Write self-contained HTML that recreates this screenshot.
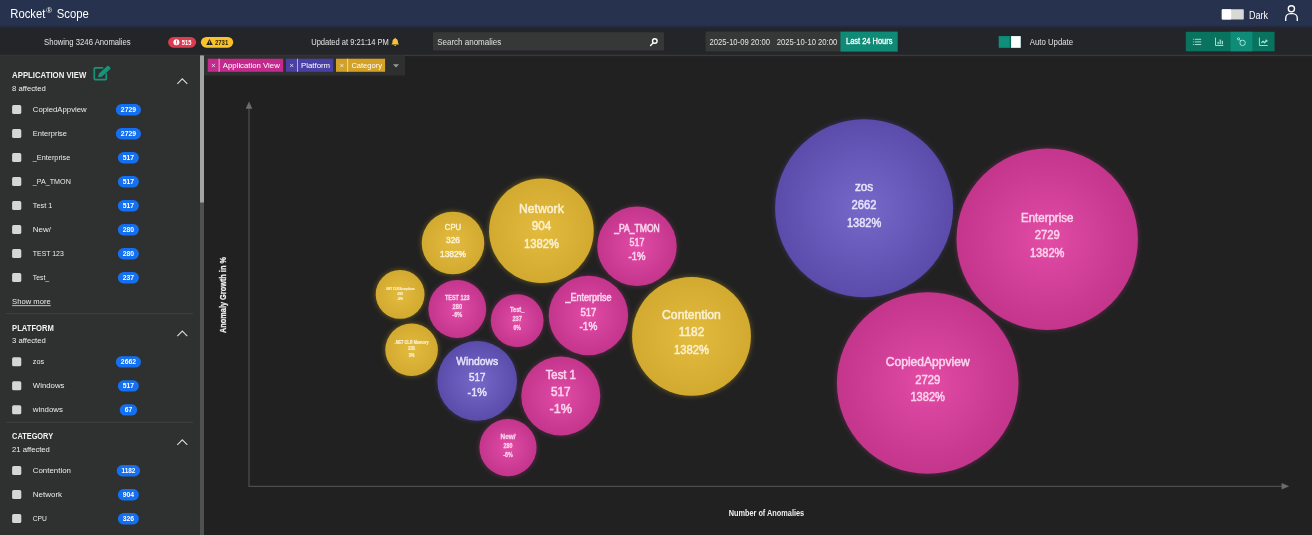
<!DOCTYPE html>
<html><head><meta charset="utf-8"><title>Rocket Scope</title>
<style>
*{margin:0;padding:0}
html,body{width:1312px;height:535px;overflow:hidden;background:#212121}
svg{display:block;will-change:transform;transform:translateZ(0);font-family:"Liberation Sans",sans-serif}
text{white-space:pre}
</style></head><body>
<svg width="1312" height="535" viewBox="0 0 1312 535">
<defs>
<linearGradient id="hs" x1="0" y1="0" x2="0" y2="1"><stop offset="0" stop-color="#27324e"/><stop offset="0.45" stop-color="#222737"/><stop offset="1" stop-color="#242528"/></linearGradient>
<radialGradient id="gP"><stop offset="0" stop-color="#e34ca5"/><stop offset="0.55" stop-color="#d03f98"/><stop offset="1" stop-color="#c4358c"/></radialGradient>
<radialGradient id="gY"><stop offset="0" stop-color="#e2bb3e"/><stop offset="1" stop-color="#d3aa30"/></radialGradient>
<radialGradient id="gV"><stop offset="0" stop-color="#7469c9"/><stop offset="1" stop-color="#5b4cab"/></radialGradient>
<filter id="bl" x="-20%" y="-20%" width="140%" height="140%"><feGaussianBlur stdDeviation="2.4"/></filter>
</defs>
<rect x="0" y="0" width="1312" height="535" fill="#212121"/>
<rect x="0" y="25" width="1312" height="30" fill="#242528"/>
<rect x="0" y="54.7" width="1312" height="1.4" fill="#393939"/>
<rect x="0" y="0" width="1312" height="25.5" fill="#27324e"/>
<rect x="0" y="25.5" width="1312" height="4" fill="url(#hs)"/>
<rect x="0" y="55.5" width="200" height="480" fill="#2f3030"/>
<rect x="200" y="55.5" width="4" height="480" fill="#505050"/>
<rect x="200" y="55.5" width="4" height="147" fill="#a3a3a3"/>
<text x="10.3" y="17.7" font-size="12.8" fill="#fff" textLength="35" lengthAdjust="spacingAndGlyphs">Rocket</text>
<text x="46.2" y="12.8" font-size="6.5" fill="#fff" textLength="5.8" lengthAdjust="spacingAndGlyphs">®</text>
<text x="56.8" y="17.7" font-size="12.8" fill="#fff" textLength="32" lengthAdjust="spacingAndGlyphs">Scope</text>
<rect x="1221.8" y="9.2" width="22" height="10.4" rx="0.8" fill="#d6d9d6"/>
<rect x="1221.8" y="9.2" width="9.4" height="10.4" rx="0.8" fill="#ffffff"/>
<text x="1248.9" y="18.8" font-size="10" fill="#fff" textLength="19" lengthAdjust="spacingAndGlyphs">Dark</text>
<g fill="none" stroke="#fff" stroke-width="1.35"><circle cx="1291.4" cy="8.8" r="3.1"/><path d="M1285.7 21v-2.8a4.6 4.6 0 0 1 4.6-4.6h2.4a4.6 4.6 0 0 1 4.6 4.6v2.8"/></g>
<text x="44" y="44.5" font-size="8.4" fill="#e4e4e4" textLength="86.7" lengthAdjust="spacingAndGlyphs">Showing 3246 Anomalies</text>
<rect x="168.1" y="36.9" width="28" height="10.8" rx="5.4" fill="#dc3b50"/>
<circle cx="176.4" cy="42.3" r="3" fill="#fff"/><rect x="176" y="40.4" width="0.9" height="2.3" fill="#dc3b50"/><rect x="176" y="43.3" width="0.9" height="0.9" fill="#dc3b50"/>
<text x="181.8" y="44.7" font-size="6.8" font-weight="700" fill="#fff" textLength="9.6" lengthAdjust="spacingAndGlyphs">515</text>
<rect x="200.9" y="36.9" width="32.3" height="10.8" rx="5.4" fill="#fbc32a"/>
<path d="M209.5 38.9l3.3 6h-6.6z" fill="#222"/><rect x="209.15" y="40.9" width="0.7" height="2.1" fill="#fbc32a"/><rect x="209.15" y="43.5" width="0.7" height="0.7" fill="#fbc32a"/>
<text x="214.9" y="44.7" font-size="6.8" font-weight="700" fill="#2a2410" textLength="13.4" lengthAdjust="spacingAndGlyphs">2731</text>
<text x="311.2" y="44.5" font-size="8.4" fill="#e4e4e4" textLength="77.7" lengthAdjust="spacingAndGlyphs">Updated at 9:21:14 PM</text>
<path d="M395.2 37.8a0.6 0.6 0 0 1 .6.6v.3c1.3.3 2.1 1.4 2.1 2.7 0 1.5.4 2.2 1 2.8v.4h-7.4v-.4c.6-.6 1-1.3 1-2.8 0-1.3.8-2.4 2.1-2.7v-.3a.6.6 0 0 1 .6-.6zM394.2 45.1h2a1 1 0 0 1-2 0z" fill="#f7c331"/>
<rect x="433" y="32.2" width="231" height="18.4" rx="1" fill="#363737"/>
<text x="437.2" y="44.6" font-size="8.4" fill="#e0e0e0" textLength="64" lengthAdjust="spacingAndGlyphs">Search anomalies</text>
<g fill="none" stroke="#fff" stroke-width="1.4" stroke-linecap="round"><circle cx="654.8" cy="41" r="2.3"/><path d="M653 43l-2.4 2.4"/></g>
<rect x="705.6" y="31.6" width="135" height="20" rx="1" fill="#363737"/>
<text x="709.6" y="44.9" font-size="8.3" fill="#e4e4e4" textLength="60.3" lengthAdjust="spacingAndGlyphs">2025-10-09 20:00</text>
<text x="776.8" y="44.9" font-size="8.3" fill="#e4e4e4" textLength="60.4" lengthAdjust="spacingAndGlyphs">2025-10-10 20:00</text>
<rect x="840.4" y="31.6" width="57.3" height="20" fill="#0f8a77"/>
<text x="846" y="43.9" font-size="8.2" fill="#fff" textLength="46.5" lengthAdjust="spacingAndGlyphs" stroke="#fff" stroke-width="0.3">Last 24 Hours</text>
<rect x="998.7" y="36.1" width="22" height="11.7" fill="#0f8f7a"/>
<rect x="1009.6" y="36.1" width="1.6" height="11.7" fill="#0a6858"/>
<rect x="1011.1" y="36.1" width="9.6" height="11.7" fill="#ffffff"/>
<text x="1029.8" y="44.5" font-size="8.4" fill="#e4e4e4" textLength="43.3" lengthAdjust="spacingAndGlyphs">Auto Update</text>
<rect x="1185.8" y="31.8" width="88.8" height="19.5" fill="#09735f"/>
<rect x="1230.6" y="31.8" width="21.8" height="19.5" fill="#0e8c78"/>
<g stroke="#bdeee1" stroke-width="0.85" fill="none"><path d="M1194.8 39.3h6.4M1194.8 41.9h6.4M1194.8 44.5h6.4"/><path d="M1192.9 39.3h.9M1192.9 41.9h.9M1192.9 44.5h.9"/><path d="M1215.5 37.6v7.9h7.8"/><path d="M1218.1 44.2v-2.4M1220.2 44.2v-4.8M1222.3 44.2v-3.4" stroke-width="1.1"/><circle cx="1238.5" cy="38.8" r="1.1"/><circle cx="1242.6" cy="42.9" r="2.7"/><path d="M1239.3 39.6l1.4 1.4"/><path d="M1259.4 37.6v7.9h8.3"/><path d="M1261.4 42.8l1.6-1.5 1.6 1.4 2.2-2.3" stroke-width="1.1"/><path d="M1265.4 40.2h1.6v1.6" stroke-width="0.9"/></g>
<text x="12.1" y="78.39999999999999" font-size="8.4" font-weight="700" fill="#f2f2f2" textLength="74.2" lengthAdjust="spacingAndGlyphs">APPLICATION VIEW</text>
<text x="12.1" y="90.6" font-size="7.8" fill="#f0f0f0" textLength="33.7" lengthAdjust="spacingAndGlyphs">8 affected</text>
<path d="M177.3 83.9l5 -5 5 5" fill="none" stroke="#dcdcdc" stroke-width="1.1"/>
<rect x="12.1" y="105.1" width="9.2" height="9" rx="1.6" fill="#d6d6d6"/>
<text x="32.8" y="111.5" font-size="8.1" fill="#ececec" textLength="53.9" lengthAdjust="spacingAndGlyphs">CopiedAppview</text>
<rect x="115.8" y="104.1" width="25.2" height="11.3" rx="5.6" fill="#1470f0"/>
<text x="128.45" y="111.9" font-size="6.9" font-weight="700" fill="#fff" text-anchor="middle" textLength="15.2" lengthAdjust="spacingAndGlyphs">2729</text>
<rect x="12.1" y="129.1" width="9.2" height="9" rx="1.6" fill="#d6d6d6"/>
<text x="32.8" y="135.5" font-size="8.1" fill="#ececec" textLength="34.2" lengthAdjust="spacingAndGlyphs">Enterprise</text>
<rect x="115.8" y="128.1" width="25.2" height="11.3" rx="5.6" fill="#1470f0"/>
<text x="128.45" y="135.9" font-size="6.9" font-weight="700" fill="#fff" text-anchor="middle" textLength="15.2" lengthAdjust="spacingAndGlyphs">2729</text>
<rect x="12.1" y="153.1" width="9.2" height="9" rx="1.6" fill="#d6d6d6"/>
<text x="32.8" y="159.5" font-size="8.1" fill="#ececec" textLength="37.4" lengthAdjust="spacingAndGlyphs">_Enterprise</text>
<rect x="117.9" y="152.1" width="21" height="11.3" rx="5.6" fill="#1470f0"/>
<text x="128.45" y="159.9" font-size="6.9" font-weight="700" fill="#fff" text-anchor="middle" textLength="11.4" lengthAdjust="spacingAndGlyphs">517</text>
<rect x="12.1" y="177.1" width="9.2" height="9" rx="1.6" fill="#d6d6d6"/>
<text x="32.8" y="183.5" font-size="8.1" fill="#ececec" textLength="38" lengthAdjust="spacingAndGlyphs">_PA_TMON</text>
<rect x="117.9" y="176.1" width="21" height="11.3" rx="5.6" fill="#1470f0"/>
<text x="128.45" y="183.9" font-size="6.9" font-weight="700" fill="#fff" text-anchor="middle" textLength="11.4" lengthAdjust="spacingAndGlyphs">517</text>
<rect x="12.1" y="201.1" width="9.2" height="9" rx="1.6" fill="#d6d6d6"/>
<text x="32.8" y="207.5" font-size="8.1" fill="#ececec" textLength="19.5" lengthAdjust="spacingAndGlyphs">Test 1</text>
<rect x="117.9" y="200.1" width="21" height="11.3" rx="5.6" fill="#1470f0"/>
<text x="128.45" y="207.9" font-size="6.9" font-weight="700" fill="#fff" text-anchor="middle" textLength="11.4" lengthAdjust="spacingAndGlyphs">517</text>
<rect x="12.1" y="225.1" width="9.2" height="9" rx="1.6" fill="#d6d6d6"/>
<text x="32.8" y="231.5" font-size="8.1" fill="#ececec" textLength="18.2" lengthAdjust="spacingAndGlyphs">New/</text>
<rect x="117.9" y="224.1" width="21" height="11.3" rx="5.6" fill="#1470f0"/>
<text x="128.45" y="231.9" font-size="6.9" font-weight="700" fill="#fff" text-anchor="middle" textLength="11.4" lengthAdjust="spacingAndGlyphs">280</text>
<rect x="12.1" y="249.1" width="9.2" height="9" rx="1.6" fill="#d6d6d6"/>
<text x="32.8" y="255.5" font-size="8.1" fill="#ececec" textLength="31" lengthAdjust="spacingAndGlyphs">TEST 123</text>
<rect x="117.9" y="248.1" width="21" height="11.3" rx="5.6" fill="#1470f0"/>
<text x="128.45" y="255.9" font-size="6.9" font-weight="700" fill="#fff" text-anchor="middle" textLength="11.4" lengthAdjust="spacingAndGlyphs">280</text>
<rect x="12.1" y="273.1" width="9.2" height="9" rx="1.6" fill="#d6d6d6"/>
<text x="32.8" y="279.5" font-size="8.1" fill="#ececec" textLength="16.3" lengthAdjust="spacingAndGlyphs">Test_</text>
<rect x="117.9" y="272.1" width="21" height="11.3" rx="5.6" fill="#1470f0"/>
<text x="128.45" y="279.9" font-size="6.9" font-weight="700" fill="#fff" text-anchor="middle" textLength="11.4" lengthAdjust="spacingAndGlyphs">237</text>
<path d="M103.2 67.9h-8.1a.8.8 0 0 0-.8.8v10.1a.8.8 0 0 0 .8.8h10.4a.8.8 0 0 0 .8-.8v-5.6" fill="none" stroke="#17957a" stroke-width="1.7"/><path d="M98 77.3l.9-3.6 8.3-7.6a1.2 1.2 0 0 1 1.7.1l1.3 1.4a1.2 1.2 0 0 1-.1 1.7l-8.4 7.5z" fill="#17957a"/>
<text x="12.1" y="304.4" font-size="8" fill="#ececec" textLength="38.7" lengthAdjust="spacingAndGlyphs">Show more</text>
<rect x="12.1" y="305.3" width="38.7" height="0.8" fill="#e0e0e0"/>
<rect x="6" y="313.2" width="187" height="0.9" fill="#414242"/>
<text x="12.1" y="330.6" font-size="8.4" font-weight="700" fill="#f2f2f2" textLength="41.7" lengthAdjust="spacingAndGlyphs">PLATFORM</text>
<text x="12.1" y="342.8" font-size="7.8" fill="#f0f0f0" textLength="33.7" lengthAdjust="spacingAndGlyphs">3 affected</text>
<path d="M177.3 336.1l5 -5 5 5" fill="none" stroke="#dcdcdc" stroke-width="1.1"/>
<rect x="12.1" y="357.3" width="9.2" height="9" rx="1.6" fill="#d6d6d6"/>
<text x="32.8" y="363.7" font-size="8.1" fill="#ececec" textLength="11.3" lengthAdjust="spacingAndGlyphs">zos</text>
<rect x="115.8" y="356.3" width="25.2" height="11.3" rx="5.6" fill="#1470f0"/>
<text x="128.45" y="364.1" font-size="6.9" font-weight="700" fill="#fff" text-anchor="middle" textLength="15.2" lengthAdjust="spacingAndGlyphs">2662</text>
<rect x="12.1" y="381.3" width="9.2" height="9" rx="1.6" fill="#d6d6d6"/>
<text x="32.8" y="387.7" font-size="8.1" fill="#ececec" textLength="31.7" lengthAdjust="spacingAndGlyphs">Windows</text>
<rect x="117.9" y="380.3" width="21" height="11.3" rx="5.6" fill="#1470f0"/>
<text x="128.45" y="388.1" font-size="6.9" font-weight="700" fill="#fff" text-anchor="middle" textLength="11.4" lengthAdjust="spacingAndGlyphs">517</text>
<rect x="12.1" y="405.3" width="9.2" height="9" rx="1.6" fill="#d6d6d6"/>
<text x="32.8" y="411.7" font-size="8.1" fill="#ececec" textLength="30.2" lengthAdjust="spacingAndGlyphs">windows</text>
<rect x="119.7" y="404.3" width="17.5" height="11.3" rx="5.6" fill="#1470f0"/>
<text x="128.45" y="412.1" font-size="6.9" font-weight="700" fill="#fff" text-anchor="middle" textLength="7.6" lengthAdjust="spacingAndGlyphs">67</text>
<rect x="6" y="421.8" width="187" height="0.9" fill="#414242"/>
<text x="12.1" y="439.40000000000003" font-size="8.4" font-weight="700" fill="#f2f2f2" textLength="41" lengthAdjust="spacingAndGlyphs">CATEGORY</text>
<text x="12.1" y="451.6" font-size="7.8" fill="#f0f0f0" textLength="37.8" lengthAdjust="spacingAndGlyphs">21 affected</text>
<path d="M177.3 444.9l5 -5 5 5" fill="none" stroke="#dcdcdc" stroke-width="1.1"/>
<rect x="12.1" y="466.1" width="9.2" height="9" rx="1.6" fill="#d6d6d6"/>
<text x="32.8" y="472.5" font-size="8.1" fill="#ececec" textLength="38.1" lengthAdjust="spacingAndGlyphs">Contention</text>
<rect x="116.7" y="465.1" width="23.4" height="11.3" rx="5.6" fill="#1470f0"/>
<text x="128.45" y="472.9" font-size="6.9" font-weight="700" fill="#fff" text-anchor="middle" textLength="14.0" lengthAdjust="spacingAndGlyphs">1182</text>
<rect x="12.1" y="490.1" width="9.2" height="9" rx="1.6" fill="#d6d6d6"/>
<text x="32.8" y="496.5" font-size="8.1" fill="#ececec" textLength="29.3" lengthAdjust="spacingAndGlyphs">Network</text>
<rect x="117.9" y="489.1" width="21" height="11.3" rx="5.6" fill="#1470f0"/>
<text x="128.45" y="496.9" font-size="6.9" font-weight="700" fill="#fff" text-anchor="middle" textLength="11.4" lengthAdjust="spacingAndGlyphs">904</text>
<rect x="12.1" y="514.1" width="9.2" height="9" rx="1.6" fill="#d6d6d6"/>
<text x="32.8" y="520.5" font-size="8.1" fill="#ececec" textLength="14.1" lengthAdjust="spacingAndGlyphs">CPU</text>
<rect x="117.9" y="513.1" width="21" height="11.3" rx="5.6" fill="#1470f0"/>
<text x="128.45" y="520.9" font-size="6.9" font-weight="700" fill="#fff" text-anchor="middle" textLength="11.4" lengthAdjust="spacingAndGlyphs">326</text>
<rect x="204" y="55.5" width="201" height="20" fill="#2e2f2f"/>
<rect x="207.7" y="58.7" width="75.5" height="13.1" fill="#c42a8d"/>
<rect x="218.7" y="58.7" width="0.8" height="13.1" fill="rgba(255,255,255,0.75)"/>
<path d="M211.8 63.9l3.2 3.2M215.0 63.9l-3.2 3.2" stroke="#fff" stroke-opacity="0.85" stroke-width="0.8" fill="none"/>
<text x="222.79999999999998" y="68.2" font-size="8" fill="#fff" textLength="57" lengthAdjust="spacingAndGlyphs">Application View</text>
<rect x="286" y="58.7" width="47.2" height="13.1" fill="#4a3fa5"/>
<rect x="297.0" y="58.7" width="0.8" height="13.1" fill="rgba(255,255,255,0.75)"/>
<path d="M290.1 63.9l3.2 3.2M293.3 63.9l-3.2 3.2" stroke="#fff" stroke-opacity="0.85" stroke-width="0.8" fill="none"/>
<text x="301.09999999999997" y="68.2" font-size="8" fill="#fff" textLength="29" lengthAdjust="spacingAndGlyphs">Platform</text>
<rect x="336" y="58.7" width="49.1" height="13.1" fill="#d2a126"/>
<rect x="347.3" y="58.7" width="0.8" height="13.1" fill="rgba(255,255,255,0.75)"/>
<path d="M340.2 63.9l3.2 3.2M343.5 63.9l-3.2 3.2" stroke="#fff" stroke-opacity="0.85" stroke-width="0.8" fill="none"/>
<text x="351.4" y="68.2" font-size="8" fill="#fff" textLength="30.6" lengthAdjust="spacingAndGlyphs">Category</text>
<path d="M393 64.2h6l-3 3.2z" fill="#9a9a9a"/>
<path d="M249 108V486.3H1282" stroke="#4e4e4e" stroke-width="1.2" fill="none"/>
<path d="M249 101.5l3.3 7.2h-6.6z M1289.2 486.3l-7.6 -3.3v6.6z" fill="#6c6c6c"/>
<text x="766.4" y="516.3" font-size="8.3" font-weight="700" fill="#f0f0f0" text-anchor="middle" textLength="75.5" lengthAdjust="spacingAndGlyphs">Number of Anomalies</text>
<text transform="translate(226.3 295) rotate(-90)" font-size="8.4" font-weight="700" fill="#f0f0f0" stroke="#f0f0f0" stroke-width="0.25" text-anchor="middle" textLength="76" lengthAdjust="spacingAndGlyphs">Anomaly Growth in %</text>
<circle cx="864.1" cy="208.2" r="89.5" fill="#6a5cd6" opacity="0.27" filter="url(#bl)"/>
<circle cx="1047.2" cy="239.3" r="91.2" fill="#e83fa8" opacity="0.27" filter="url(#bl)"/>
<circle cx="927.7" cy="383.0" r="91.3" fill="#e83fa8" opacity="0.27" filter="url(#bl)"/>
<circle cx="541.4" cy="230.7" r="52.8" fill="#f2c422" opacity="0.32" filter="url(#bl)"/>
<circle cx="691.5" cy="336.3" r="59.9" fill="#f2c422" opacity="0.32" filter="url(#bl)"/>
<circle cx="453" cy="243" r="31.8" fill="#f2c422" opacity="0.32" filter="url(#bl)"/>
<circle cx="637" cy="246.3" r="40.2" fill="#e83fa8" opacity="0.27" filter="url(#bl)"/>
<circle cx="588.4" cy="315.5" r="40.2" fill="#e83fa8" opacity="0.27" filter="url(#bl)"/>
<circle cx="477.2" cy="380.9" r="40.3" fill="#6a5cd6" opacity="0.27" filter="url(#bl)"/>
<circle cx="560.8" cy="396" r="40.0" fill="#e83fa8" opacity="0.27" filter="url(#bl)"/>
<circle cx="457.3" cy="309" r="29.4" fill="#e83fa8" opacity="0.27" filter="url(#bl)"/>
<circle cx="517.2" cy="320.6" r="26.9" fill="#e83fa8" opacity="0.27" filter="url(#bl)"/>
<circle cx="508" cy="447.6" r="29.1" fill="#e83fa8" opacity="0.27" filter="url(#bl)"/>
<circle cx="411.6" cy="349.8" r="26.8" fill="#f2c422" opacity="0.32" filter="url(#bl)"/>
<circle cx="400.1" cy="294.4" r="24.9" fill="#f2c422" opacity="0.32" filter="url(#bl)"/>
<circle cx="864.1" cy="208.2" r="89.0" fill="url(#gV)"/>
<circle cx="1047.2" cy="239.3" r="90.7" fill="url(#gP)"/>
<circle cx="927.7" cy="383.0" r="90.8" fill="url(#gP)"/>
<circle cx="541.4" cy="230.7" r="52.3" fill="url(#gY)"/>
<circle cx="691.5" cy="336.3" r="59.4" fill="url(#gY)"/>
<circle cx="453" cy="243" r="31.3" fill="url(#gY)"/>
<circle cx="637" cy="246.3" r="39.7" fill="url(#gP)"/>
<circle cx="588.4" cy="315.5" r="39.7" fill="url(#gP)"/>
<circle cx="477.2" cy="380.9" r="39.8" fill="url(#gV)"/>
<circle cx="560.8" cy="396" r="39.5" fill="url(#gP)"/>
<circle cx="457.3" cy="309" r="28.9" fill="url(#gP)"/>
<circle cx="517.2" cy="320.6" r="26.4" fill="url(#gP)"/>
<circle cx="508" cy="447.6" r="28.6" fill="url(#gP)"/>
<circle cx="411.6" cy="349.8" r="26.3" fill="url(#gY)"/>
<circle cx="400.1" cy="294.4" r="24.4" fill="url(#gY)"/>
<text x="864.1" y="191.2" font-size="12" fill="#e6e3fa" text-anchor="middle" textLength="18.3" lengthAdjust="spacingAndGlyphs" stroke="#e6e3fa" stroke-width="0.5">zos</text>
<text x="864.1" y="209" font-size="12" fill="#e6e3fa" text-anchor="middle" textLength="25" lengthAdjust="spacingAndGlyphs" stroke="#e6e3fa" stroke-width="0.5">2662</text>
<text x="864.1" y="227" font-size="12" fill="#e6e3fa" text-anchor="middle" textLength="34.3" lengthAdjust="spacingAndGlyphs" stroke="#e6e3fa" stroke-width="0.5">1382%</text>
<text x="1047.2" y="221.5" font-size="12" fill="#fbd3ec" text-anchor="middle" textLength="52.3" lengthAdjust="spacingAndGlyphs" stroke="#fbd3ec" stroke-width="0.5">Enterprise</text>
<text x="1047.2" y="239" font-size="12" fill="#fbd3ec" text-anchor="middle" textLength="25" lengthAdjust="spacingAndGlyphs" stroke="#fbd3ec" stroke-width="0.5">2729</text>
<text x="1047.2" y="257" font-size="12" fill="#fbd3ec" text-anchor="middle" textLength="34.5" lengthAdjust="spacingAndGlyphs" stroke="#fbd3ec" stroke-width="0.5">1382%</text>
<text x="927.7" y="365.5" font-size="12" fill="#fbd3ec" text-anchor="middle" textLength="83.8" lengthAdjust="spacingAndGlyphs" stroke="#fbd3ec" stroke-width="0.5">CopiedAppview</text>
<text x="927.7" y="383.5" font-size="12" fill="#fbd3ec" text-anchor="middle" textLength="25" lengthAdjust="spacingAndGlyphs" stroke="#fbd3ec" stroke-width="0.5">2729</text>
<text x="927.7" y="401.2" font-size="12" fill="#fbd3ec" text-anchor="middle" textLength="34.5" lengthAdjust="spacingAndGlyphs" stroke="#fbd3ec" stroke-width="0.5">1382%</text>
<text x="541.4" y="212.5" font-size="13.3" fill="#fcf0cf" text-anchor="middle" textLength="44.8" lengthAdjust="spacingAndGlyphs" stroke="#fcf0cf" stroke-width="0.56">Network</text>
<text x="541.4" y="229.8" font-size="13.3" fill="#fcf0cf" text-anchor="middle" textLength="19.5" lengthAdjust="spacingAndGlyphs" stroke="#fcf0cf" stroke-width="0.56">904</text>
<text x="541.4" y="247.8" font-size="13.3" fill="#fcf0cf" text-anchor="middle" textLength="35" lengthAdjust="spacingAndGlyphs" stroke="#fcf0cf" stroke-width="0.56">1382%</text>
<text x="691.5" y="318.7" font-size="13" fill="#fcf0cf" text-anchor="middle" textLength="58.8" lengthAdjust="spacingAndGlyphs" stroke="#fcf0cf" stroke-width="0.55">Contention</text>
<text x="691.5" y="336" font-size="13" fill="#fcf0cf" text-anchor="middle" textLength="25.5" lengthAdjust="spacingAndGlyphs" stroke="#fcf0cf" stroke-width="0.55">1182</text>
<text x="691.5" y="353.6" font-size="13" fill="#fcf0cf" text-anchor="middle" textLength="35" lengthAdjust="spacingAndGlyphs" stroke="#fcf0cf" stroke-width="0.55">1382%</text>
<text x="453" y="229.8" font-size="9.3" fill="#fcf0cf" text-anchor="middle" textLength="16.4" lengthAdjust="spacingAndGlyphs" stroke="#fcf0cf" stroke-width="0.51">CPU</text>
<text x="453" y="243.3" font-size="9.3" fill="#fcf0cf" text-anchor="middle" textLength="14" lengthAdjust="spacingAndGlyphs" stroke="#fcf0cf" stroke-width="0.51">326</text>
<text x="453" y="256.7" font-size="9.3" fill="#fcf0cf" text-anchor="middle" textLength="26" lengthAdjust="spacingAndGlyphs" stroke="#fcf0cf" stroke-width="0.51">1382%</text>
<text x="637" y="232.2" font-size="10.5" fill="#fbd3ec" text-anchor="middle" textLength="45.5" lengthAdjust="spacingAndGlyphs" stroke="#fbd3ec" stroke-width="0.58">_PA_TMON</text>
<text x="637" y="246.3" font-size="10.5" fill="#fbd3ec" text-anchor="middle" textLength="14.8" lengthAdjust="spacingAndGlyphs" stroke="#fbd3ec" stroke-width="0.58">517</text>
<text x="637" y="259.7" font-size="10.5" fill="#fbd3ec" text-anchor="middle" textLength="17" lengthAdjust="spacingAndGlyphs" stroke="#fbd3ec" stroke-width="0.58">-1%</text>
<text x="588.4" y="301.4" font-size="10.8" fill="#fbd3ec" text-anchor="middle" textLength="46" lengthAdjust="spacingAndGlyphs" stroke="#fbd3ec" stroke-width="0.59">_Enterprise</text>
<text x="588.4" y="316.3" font-size="10.8" fill="#fbd3ec" text-anchor="middle" textLength="16" lengthAdjust="spacingAndGlyphs" stroke="#fbd3ec" stroke-width="0.59">517</text>
<text x="588.4" y="330" font-size="10.8" fill="#fbd3ec" text-anchor="middle" textLength="17.7" lengthAdjust="spacingAndGlyphs" stroke="#fbd3ec" stroke-width="0.59">-1%</text>
<text x="477.2" y="365.4" font-size="11.7" fill="#e6e3fa" text-anchor="middle" textLength="42" lengthAdjust="spacingAndGlyphs" stroke="#e6e3fa" stroke-width="0.49">Windows</text>
<text x="477.2" y="380.7" font-size="11.7" fill="#e6e3fa" text-anchor="middle" textLength="16.5" lengthAdjust="spacingAndGlyphs" stroke="#e6e3fa" stroke-width="0.49">517</text>
<text x="477.2" y="396.4" font-size="11.7" fill="#e6e3fa" text-anchor="middle" textLength="19.2" lengthAdjust="spacingAndGlyphs" stroke="#e6e3fa" stroke-width="0.49">-1%</text>
<text x="560.8" y="378.7" font-size="13" fill="#fbd3ec" text-anchor="middle" textLength="30.3" lengthAdjust="spacingAndGlyphs" stroke="#fbd3ec" stroke-width="0.55">Test 1</text>
<text x="560.8" y="396.4" font-size="13" fill="#fbd3ec" text-anchor="middle" textLength="19.6" lengthAdjust="spacingAndGlyphs" stroke="#fbd3ec" stroke-width="0.55">517</text>
<text x="560.8" y="413.3" font-size="13" fill="#fbd3ec" text-anchor="middle" textLength="22.4" lengthAdjust="spacingAndGlyphs" stroke="#fbd3ec" stroke-width="0.55">-1%</text>
<text x="457.3" y="300.2" font-size="7" font-weight="700" fill="#fbd3ec" text-anchor="middle" textLength="24.7" lengthAdjust="spacingAndGlyphs" stroke="#fbd3ec" stroke-width="0.28">TEST 123</text>
<text x="457.3" y="309.3" font-size="7" font-weight="700" fill="#fbd3ec" text-anchor="middle" textLength="9.5" lengthAdjust="spacingAndGlyphs" stroke="#fbd3ec" stroke-width="0.28">280</text>
<text x="457.3" y="317.1" font-size="7" font-weight="700" fill="#fbd3ec" text-anchor="middle" textLength="10" lengthAdjust="spacingAndGlyphs" stroke="#fbd3ec" stroke-width="0.28">-6%</text>
<text x="517.2" y="312.1" font-size="6.8" font-weight="700" fill="#fbd3ec" text-anchor="middle" textLength="14.5" lengthAdjust="spacingAndGlyphs" stroke="#fbd3ec" stroke-width="0.27">Test_</text>
<text x="517.2" y="321.3" font-size="6.8" font-weight="700" fill="#fbd3ec" text-anchor="middle" textLength="9.5" lengthAdjust="spacingAndGlyphs" stroke="#fbd3ec" stroke-width="0.27">237</text>
<text x="517.2" y="330" font-size="6.8" font-weight="700" fill="#fbd3ec" text-anchor="middle" textLength="7.4" lengthAdjust="spacingAndGlyphs" stroke="#fbd3ec" stroke-width="0.27">6%</text>
<text x="508" y="438.8" font-size="6.8" font-weight="700" fill="#fbd3ec" text-anchor="middle" textLength="15" lengthAdjust="spacingAndGlyphs" stroke="#fbd3ec" stroke-width="0.27">New/</text>
<text x="508" y="447.8" font-size="6.8" font-weight="700" fill="#fbd3ec" text-anchor="middle" textLength="8.8" lengthAdjust="spacingAndGlyphs" stroke="#fbd3ec" stroke-width="0.27">280</text>
<text x="508" y="456.5" font-size="6.8" font-weight="700" fill="#fbd3ec" text-anchor="middle" textLength="9.5" lengthAdjust="spacingAndGlyphs" stroke="#fbd3ec" stroke-width="0.27">-6%</text>
<text x="411.6" y="343.6" font-size="5" font-weight="700" fill="#fcf0cf" text-anchor="middle" textLength="34" lengthAdjust="spacingAndGlyphs" stroke="#fcf0cf" stroke-width="0.2">.NET CLR Memory</text>
<text x="411.6" y="349.6" font-size="5" font-weight="700" fill="#fcf0cf" text-anchor="middle" textLength="7.2" lengthAdjust="spacingAndGlyphs" stroke="#fcf0cf" stroke-width="0.2">231</text>
<text x="411.6" y="356.6" font-size="5" font-weight="700" fill="#fcf0cf" text-anchor="middle" textLength="5.5" lengthAdjust="spacingAndGlyphs" stroke="#fcf0cf" stroke-width="0.2">3%</text>
<text x="400.1" y="290.2" font-size="4.3" font-weight="700" fill="#fcf0cf" text-anchor="middle" textLength="28.8" lengthAdjust="spacingAndGlyphs" stroke="#fcf0cf" stroke-width="0.17">.NET CLR Exceptions</text>
<text x="400.1" y="294.8" font-size="4.3" font-weight="700" fill="#fcf0cf" text-anchor="middle" textLength="5.5" lengthAdjust="spacingAndGlyphs" stroke="#fcf0cf" stroke-width="0.17">200</text>
<text x="400.1" y="299.6" font-size="4.3" font-weight="700" fill="#fcf0cf" text-anchor="middle" textLength="6" lengthAdjust="spacingAndGlyphs" stroke="#fcf0cf" stroke-width="0.17">-0%</text>
</svg>
</body></html>
